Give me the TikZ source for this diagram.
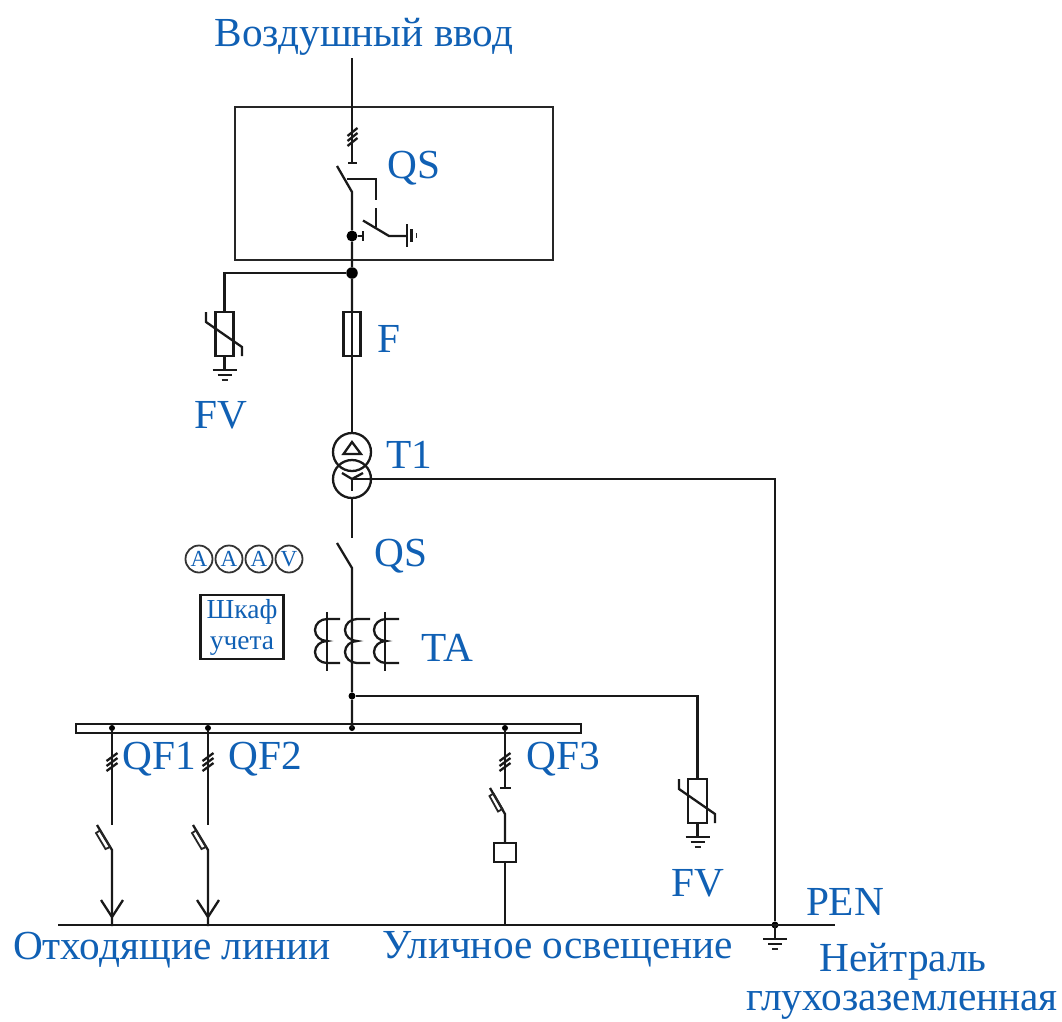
\documentclass[tikz,border=0pt]{standalone}
\usepackage{fontspec}
\setmainfont{Liberation Serif}
\usepackage{xcolor}
\usetikzlibrary{positioning}
\definecolor{labelblue}{HTML}{1060B4}

\begin{document}
\begin{tikzpicture}[x=1pt, y=-1pt,
        line/.style={black!90, line width=2.3pt},
        thinline/.style={black!85, line width=1.8pt},
        lab/.style={text=labelblue, inner sep=0pt, font=\fontsize{41.3}{44}\selectfont},
        dot/.style={circle, fill=black, inner sep=0pt, minimum size=#1},
        box/.style={draw=black!90, line width=2.3pt, inner sep=0pt, minimum width=#1},
        meter/.style={circle, draw=black!80, line width=1.8pt, inner sep=0pt, minimum size=27pt, text=labelblue, font=\fontsize{23}{25}\selectfont},
        winding/.style={circle, draw=black!90, line width=2.3pt, inner sep=0pt, minimum size=38pt}]
        \useasboundingbox (0,0) rectangle (1062,1021);

        % Labels
        \node[lab] (inlab) at (364,37) {Воздушный ввод};
        \node[lab] (qstop) at (414,168) {QS};
        \node[lab] (flab) at (389,339) {F};
        \node[lab] (fvleft) at (221,415) {FV};
        \node[lab] (tlab) at (409,455) {T1};
        \node[lab] (qslow) at (401,556) {QS};
        \node[lab] (talab) at (447,648) {TA};
        \node[lab] (qfa) at (159,759) {QF1};
        \node[lab] (qfb) at (265,759) {QF2};
        \node[lab] (qfc) at (563,759) {QF3};
        \node[lab] (fvright) at (698,883) {FV};
        \node[lab] (penlab) at (845,902) {PEN};
        \node[lab] (outlab) at (172,950) {Отходящие линии};
        \node[lab] (lightlab) at (558,949) {Уличное освещение};
        \node[lab] (neutra) at (903,962) {Нейтраль};
        \node[lab] (neutrb) at (902,1005.5) {глухозаземленная};

        % Panel and bus
        \node[box=318pt, minimum height=153pt, draw=black!85] (panel) at (394,183.5) {};
        \node[box=505pt, minimum height=9pt] (bus) at (328.5,728.5) {};

        % Main line coordinates
        \coordinate (top) at (352,58);
        \coordinate (dsbar) at (352,163);
        \coordinate (dsa) at (337,166);
        \coordinate (dsb) at (352,192);
        \coordinate (qsa) at (352,538);
        \coordinate (qsb) at (337,543);
        \coordinate (qsc) at (352,568);
        \coordinate (busin) at (352,728);
        \coordinate (penl) at (58,925);
        \coordinate (penr) at (835,925);

        % Dots on the main line
        \node[dot=11pt] (earthdot) at (352,236) {};
        \node[dot=11.5pt] (branch) at (352,273) {};
        \node[dot=7pt] (ctdot) at (352,696) {};
        \node[dot=7pt] (pendot) at (775,925) {};
        \node[dot=6pt] (busdot) at (352,728) {};

        % Fuse, transformer
        \node[box=17pt, minimum height=44pt] (fuse) at (352,334) {};
        \node[winding] (tup) at (352,452) {};
        \node[winding] (tlow) at (352,479) {};
        \coordinate (star) at (352,479);
        \coordinate (cornera) at (775,479);

        % Main line
        \draw[line] (top)--(dsbar);
        \draw[line] (dsa)--(dsb)--(earthdot)--(branch)--(fuse.north);
        \draw[line] (fuse.north)--(fuse.south)--(tup.north);
        \draw[line] (tlow.south)--(qsa);
        \draw[line] (qsb)--(qsc)--(ctdot)--(busin);
        \draw[line] (348,163)--(357,163);

        % Hatches on the incoming line
        \foreach \dy in {-5,0,5} \draw[line] (347.5,137+\dy+4)--(357.5,137+\dy-4);

        % Earthing switch
        \draw[line] (346.5,179)--(376,179)--(376,200);
        \draw[line] (376,208)--(376,227);
        \draw[line] (363,220.5)--(389,236)--(407,236);
        \draw[line] (earthdot)--(363,236);
        \draw[line] (363,231)--(363,241);
        \draw[line] (407,224)--(407,247);
        \draw[line] (411.5,229)--(411.5,242);
        \draw[thinline] (416.5,233)--(416.5,238);

        % Left arrester
        \coordinate (fvlc) at (224.5,273);
        \node[box=18pt, minimum height=44pt] (fvlbody) at (224.5,334) {};
        \draw[line] (branch)--(fvlc)--(fvlbody.north);
        \draw[line] (206,312)--(206,322)--(242,347)--(242,356);

        % Right arrester
        \coordinate (fvrc) at (697.5,696);
        \node[box=19pt, minimum height=44pt] (fvrbody) at (697.5,801) {};
        \draw[line] (ctdot)--(fvrc)--(fvrbody.north);
        \draw[line] (679,779)--(679,789)--(715,814)--(715,823);

        % Earth symbols
        \foreach \x/\y in {224.5/356,697.5/823,775/925} {
            \draw[line] (\x,\y)--(\x,\y+14);
            \draw[line] (\x-12,\y+14)--(\x+12,\y+14);
            \draw[line] (\x-7,\y+19)--(\x+7,\y+19);
            \draw[thinline] (\x-3,\y+24)--(\x+3,\y+24);
        }

        % Transformer windings
        \draw[line] (343.5,454)--(352,442)--(361,454)--cycle;
        \draw[line] (342,473)--(star)--(363,473);
        \draw[line] (star)--(352,491);
        \draw[line] (star)--(cornera)--(pendot);

        % Current transformers
        \foreach \c/\v/\e in {327/327/340,357/352/370,386/385/399} {
            \draw[line] (\v,612)--(\v,671);
            \draw[line] (\e,619)--(\c,619) arc (90:270:12pt and 11pt) arc (90:270:12pt and 11pt)--(\e,663);
            \draw[line] (\c-5,641)--(\c,641);
        }

        % Meters and cabinet
        \node[meter] (ma) at (199,559) {A};
        \node[meter] (mb) at (229,559) {A};
        \node[meter] (mc) at (259,559) {A};
        \node[meter] (mv) at (289,559) {V};
        \node[box=83pt, minimum height=64pt, text=labelblue, align=center, font=\fontsize{27.5}{31}\selectfont] (cab) at (242,627) {\raisebox{-3pt}{Шкаф}\\\raisebox{-3pt}{учета}};

        % Outgoing feeders
        \foreach \x/\n in {112/a,208/b} {
            \node[dot=6pt] (fd\n) at (\x,728) {};
            \draw[line] (fd\n)--(\x,825);
            \foreach \dy in {-5,0,5} \draw[line] (\x-5.5,762+\dy+4)--(\x+5.5,762+\dy-4);
            \draw[line] (\x-15,825)--(\x,850)--(\x,926);
            \draw[thinline] (\x-16,833)--(\x-12,830.5)--(\x-2,847)--(\x-6.5,849)--cycle;
            \draw[line] (\x-11,900)--(\x,917)--(\x+11,900);
        }

        % Lighting feeder
        \node[dot=6pt] (fdc) at (505,728) {};
        \node[box=22pt, minimum height=19pt] (contactor) at (505,852.5) {};
        \draw[line] (fdc)--(505,788);
        \draw[line] (500,788)--(511,788);
        \foreach \dy in {-5,0,5} \draw[line] (499.5,762+\dy+4)--(510.5,762+\dy-4);
        \draw[line] (490,788)--(505,814)--(contactor.north);
        \draw[thinline] (489.5,796)--(493.5,793.5)--(502.5,809)--(498,811.5)--cycle;
        \draw[line] (contactor.south)--(505,926);

        % PEN
        \draw[line] (penl)--(penr);
    \end{tikzpicture}
\end{document}
